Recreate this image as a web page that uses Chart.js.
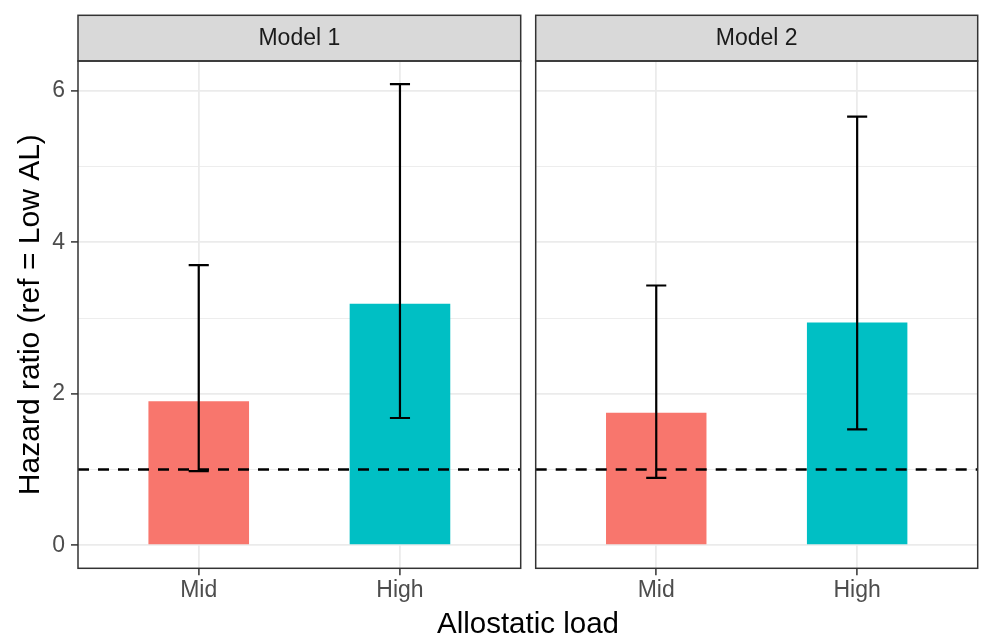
<!DOCTYPE html>
<html>
<head>
<meta charset="utf-8">
<title>Hazard ratio by allostatic load</title>
<script src="https://cdn.jsdelivr.net/npm/chart.js@4.4.1/dist/chart.umd.min.js"></script>
<style>
  body { margin: 0; background: #ffffff; }
  #wrap { position: relative; width: 989px; height: 644px; }
  #wrap canvas { position: absolute; left: 0; top: 0; }
  #xtitle {
    position: absolute; left: 78px; width: 900px; top: 608px;
    font: 29.5px "Liberation Sans", Arial, sans-serif; line-height: 29.5px;
    text-align: center; color: #000000;
  }
</style>
</head>
<body>
<div id="wrap">
  <canvas id="panel1" width="989" height="644"></canvas>
  <canvas id="panel2" width="989" height="644"></canvas>
  <div id="xtitle">Allostatic load</div>
</div>
<script>
// --- data ---
const categories = ['Mid', 'High'];
const xPositions = [1, 2];
const panelTitles = ['Model 1', 'Model 2'];

const model1HR = [1.90, 3.19];
const model1Lower = [0.98, 1.68];
const model1Upper = [3.70, 6.09];

const model2HR = [1.75, 2.94];
const model2Lower = [0.89, 1.53];
const model2Upper = [3.43, 5.66];

const refLine = [1];
const yMajorTicks = [0, 2, 4, 6];
const yMinorTicks = [1, 3, 5];
const yTickLabels = ['0', '2', '4', '6'];
const yLimits = [-0.3045, 6.3945];
const xLimits = [0.4, 2.6];

// --- style ---
const FONT = '"Liberation Sans", Arial, sans-serif';
const barColors = ['#F8766D', '#00BFC4'];
const GRID = '#EBEBEB';
const DARK = '#333333';
const STRIP_TOP = 15.3;
const CAP_HALF = 0.05; // errorbar width 0.1 in x units

// errorbars + panel border + facet strip
const facetPlugin = {
  id: 'facet',
  afterDatasetsDraw(chart, args, opts) {
    const ctx = chart.ctx;
    const xs = chart.scales.x, ys = chart.scales.y;
    ctx.save();
    ctx.strokeStyle = '#000000';
    ctx.lineWidth = 2.2;
    opts.lower.forEach((lo, i) => {
      const x = xs.getPixelForValue(xPositions[i]);
      const xl = xs.getPixelForValue(xPositions[i] - CAP_HALF);
      const xr = xs.getPixelForValue(xPositions[i] + CAP_HALF);
      const yl = ys.getPixelForValue(lo);
      const yu = ys.getPixelForValue(opts.upper[i]);
      ctx.beginPath();
      ctx.moveTo(x, yl); ctx.lineTo(x, yu);
      ctx.moveTo(xl, yl); ctx.lineTo(xr, yl);
      ctx.moveTo(xl, yu); ctx.lineTo(xr, yu);
      ctx.stroke();
    });
    ctx.restore();
  },
  afterDraw(chart, args, opts) {
    const ctx = chart.ctx;
    const a = chart.chartArea;
    ctx.save();
    // strip
    ctx.fillStyle = '#D9D9D9';
    ctx.fillRect(a.left, STRIP_TOP, a.right - a.left, a.top - STRIP_TOP);
    ctx.strokeStyle = DARK;
    ctx.lineWidth = 1.5;
    ctx.strokeRect(a.left, STRIP_TOP, a.right - a.left, a.top - STRIP_TOP);
    ctx.fillStyle = '#1A1A1A';
    ctx.font = '23px ' + FONT;
    ctx.textAlign = 'center';
    ctx.textBaseline = 'middle';
    ctx.fillText(opts.title, (a.left + a.right) / 2, (STRIP_TOP + a.top) / 2 + 1);
    // panel border
    ctx.strokeRect(a.left, a.top, a.right - a.left, a.bottom - a.top);
    ctx.restore();
  }
};

function makePanel(canvasId, title, hr, lower, upper, withAxis, padLeft, padRight) {
  return new Chart(document.getElementById(canvasId), {
    type: 'bar',
    data: {
      datasets: [{
        type: 'line',
        data: [{ x: xLimits[0], y: refLine[0] }, { x: xLimits[1], y: refLine[0] }],
        borderColor: '#000000',
        borderWidth: 2.5,
        borderDash: [11, 9],
        pointRadius: 0,
        order: 0
      }, {
        data: xPositions.map((x, i) => ({ x: x, y: hr[i] })),
        backgroundColor: barColors,
        barPercentage: 0.5,
        categoryPercentage: 1,
        order: 1
      }]
    },
    options: {
      responsive: false,
      animation: false,
      layout: { padding: { left: padLeft, right: padRight, top: 61, bottom: 0 } },
      plugins: {
        legend: { display: false },
        tooltip: { enabled: false },
        facet: { title: title, lower: lower, upper: upper }
      },
      scales: {
        x: {
          type: 'linear',
          min: xLimits[0],
          max: xLimits[1],
          offset: false,
          afterBuildTicks: axis => { axis.ticks = xPositions.map(v => ({ value: v })); },
          afterFit: axis => { axis.height = 644 - 568.3; },
          border: { display: false },
          grid: {
            offset: false,
            color: GRID,
            lineWidth: 1.8,
            tickColor: DARK,
            tickWidth: 1.5,
            tickLength: 7
          },
          ticks: {
            color: '#4D4D4D',
            font: { family: FONT, size: 23 },
            padding: 2,
            maxRotation: 0,
            callback: v => categories[xPositions.indexOf(v)]
          }
        },
        y: {
          type: 'linear',
          min: yLimits[0],
          max: yLimits[1],
          afterBuildTicks: axis => {
            axis.ticks = yMajorTicks.concat(yMinorTicks).sort((p, q) => p - q).map(v => ({ value: v }));
          },
          afterFit: axis => { axis.width = withAxis ? 78 : 0; },
          border: { display: false },
          grid: {
            color: GRID,
            lineWidth: c => yMajorTicks.includes(c.tick.value) ? 1.8 : 0.9,
            drawTicks: withAxis,
            tickColor: c => yMajorTicks.includes(c.tick.value) ? DARK : 'rgba(0,0,0,0)',
            tickWidth: 1.5,
            tickLength: 7
          },
          ticks: {
            display: withAxis,
            color: '#4D4D4D',
            font: { family: FONT, size: 23 },
            padding: 6,
            callback: v => {
              const k = yMajorTicks.indexOf(v);
              return k >= 0 ? yTickLabels[k] : '';
            }
          },
          title: {
            display: withAxis,
            text: 'Hazard ratio (ref = Low AL)',
            color: '#000000',
            font: { family: FONT, size: 30 },
            padding: { top: 13, bottom: 0 }
          }
        }
      }
    },
    plugins: [facetPlugin]
  });
}

makePanel('panel1', panelTitles[0], model1HR, model1Lower, model1Upper, true, 0, 989 - 520.7);
makePanel('panel2', panelTitles[1], model2HR, model2Lower, model2Upper, false, 535.7, 989 - 977.7);
</script>
</body>
</html>
